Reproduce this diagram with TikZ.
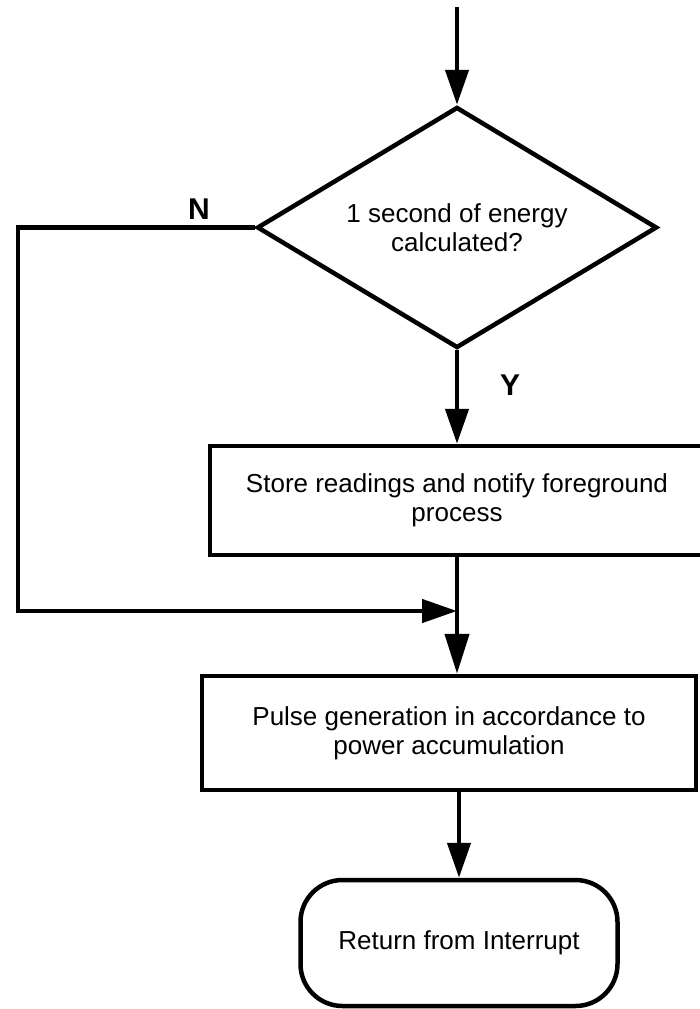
\documentclass[tikz,border=0pt]{standalone}
\usepackage{fontspec}
\setmainfont{Liberation Sans}
\usetikzlibrary{shapes.geometric,arrows.meta}
\tikzset{
  base/.style={draw=black, line width=4.5pt, fill=white, align=center, inner sep=0pt,
    font=\fontsize{26}{29}\selectfont},
  decision/.style={base, diamond, aspect=1.66, minimum width=400pt, minimum height=241pt},
  process/.style={base, rectangle, minimum width=494pt},
  terminal/.style={base, rectangle, rounded corners=42pt, minimum width=317pt, minimum height=126pt},
  conn/.style={line width=4.5pt, line join=miter},
  arr/.style={conn, -{Triangle[length=35pt, width=23pt]}},
  arrlong/.style={conn, -{Triangle[length=40pt, width=24pt]}},
  lbl/.style={font=\bfseries\fontsize{30}{30}\selectfont, inner sep=0pt}
}
\begin{document}
\begin{tikzpicture}[x=1pt, y=-1pt]
\useasboundingbox (0,0) rectangle (700,1009);
\node[decision] (dec) at (457,227.5) {1 second of energy\\calculated?};
\node[process, minimum height=109pt] (b1) at (457,500.5) {Store readings and notify foreground\\process};
\node[process, minimum height=114pt] (b2) at (449,733) {Pulse generation in accordance to\\power accumulation};
\node[terminal] (ret) at (459,943) {Return from Interrupt};
\coordinate (start) at (457,7);
\coordinate (nc) at (18,611);
\coordinate (merge) at (457,611);
\node[lbl] (nlab) at (199,209) {N};
\node[lbl] (ylab) at (510,385) {Y};
\draw[arr] (start) -- (dec.north);
\draw[arr] (dec.south) -- (b1.north);
\draw[arr] (dec.west) -| (nc) -- (merge);
\draw[arrlong] (b1.south) -- (b1.south |- b2.north);
\draw[arr] (ret.north |- b2.south) -- (ret.north);
\end{tikzpicture}
\end{document}
